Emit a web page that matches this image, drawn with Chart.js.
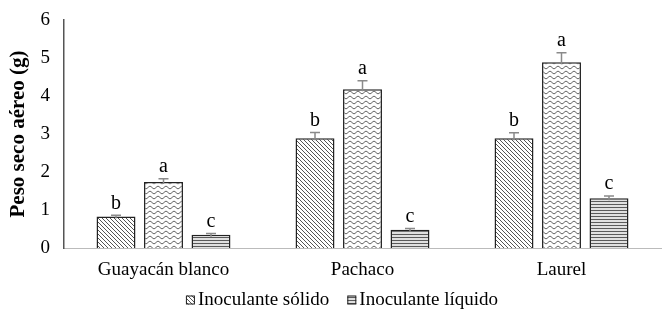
<!DOCTYPE html>
<html lang="es">
<head>
<meta charset="UTF-8">
<title>Peso seco aéreo</title>
<script src="https://cdn.jsdelivr.net/npm/chart.js"></script>
<style>
    html, body { margin: 0; padding: 0; background: #fff; overflow: hidden; }
</style>
</head>
<body>
<canvas id="chart" width="666" height="316"></canvas>
<script>
    // Datos
    const categorias = ['Guayacán blanco', 'Pachaco', 'Laurel'];
    const solido = [0.83, 2.89, 2.89];
    const solidoErr = [0.03, 0.15, 0.14];
    const medio = [1.74, 4.18, 4.89];
    const medioErr = [0.08, 0.22, 0.25];
    const liquido = [0.35, 0.48, 1.31];
    const liquidoErr = [0.03, 0.03, 0.06];
    const letrasSolido = ['b', 'b', 'b'];
    const letrasMedio = ['a', 'a', 'a'];
    const letrasLiquido = ['c', 'c', 'c'];
    const yTicks = [0, 1, 2, 3, 4, 5, 6];

    const fuente = '"Liberation Serif", "Times New Roman", serif';

    // Patrones de relleno
    function patronDiagonal() {
        const c = document.createElement('canvas');
        c.width = 4; c.height = 4;
        const g = c.getContext('2d');
        g.fillStyle = '#fff'; g.fillRect(0, 0, 4, 4);
        g.strokeStyle = '#555'; g.lineWidth = 1;
        g.beginPath();
        g.moveTo(-1, -1); g.lineTo(5, 5);
        g.moveTo(-1, 3); g.lineTo(1, 5);
        g.moveTo(3, -1); g.lineTo(5, 1);
        g.stroke();
        return g.createPattern(c, 'repeat');
    }
    function patronOndas() {
        const c = document.createElement('canvas');
        c.width = 8; c.height = 5;
        const g = c.getContext('2d');
        g.fillStyle = '#fff'; g.fillRect(0, 0, 8, 5);
        g.strokeStyle = '#666'; g.lineWidth = 1;
        g.beginPath();
        for (let x = 0; x <= 8; x++) {
            const y = 2.5 + 1.3 * Math.sin(x / 8 * Math.PI * 2);
            if (x === 0) g.moveTo(x, y); else g.lineTo(x, y);
        }
        g.stroke();
        return g.createPattern(c, 'repeat');
    }
    function patronHorizontal() {
        const c = document.createElement('canvas');
        c.width = 2; c.height = 3;
        const g = c.getContext('2d');
        g.fillStyle = '#e0e0e0'; g.fillRect(0, 0, 2, 3);
        g.fillStyle = '#5a5a5a'; g.fillRect(0, 0, 2, 1);
        return g.createPattern(c, 'repeat');
    }

    // Barras de error y letras
    const errorPlugin = {
        id: 'errorBars',
        afterDatasetsDraw(chart) {
            const ctx = chart.ctx;
            const y = chart.scales.y;
            chart.data.datasets.forEach((ds, i) => {
                const meta = chart.getDatasetMeta(i);
                meta.data.forEach((bar, j) => {
                    const top = y.getPixelForValue(ds.data[j] + ds.errores[j]);
                    const base = y.getPixelForValue(ds.data[j]);
                    ctx.save();
                    ctx.strokeStyle = '#8a8a8a';
                    ctx.lineWidth = 1.5;
                    ctx.beginPath();
                    ctx.moveTo(bar.x, base + 2); ctx.lineTo(bar.x, top);
                    ctx.moveTo(bar.x - 5, top); ctx.lineTo(bar.x + 5, top);
                    ctx.stroke();
                    ctx.fillStyle = '#000';
                    ctx.font = '20px ' + fuente;
                    ctx.textAlign = 'center';
                    ctx.textBaseline = 'bottom';
                    ctx.fillText(ds.letras[j], bar.x, top - 2);
                    ctx.restore();
                });
            });
        }
    };

    // Leyenda propia (cuadros pequeños pegados al texto)
    const leyendaPlugin = {
        id: 'leyenda',
        afterDraw(chart) {
            const ctx = chart.ctx;
            const items = chart.data.datasets.filter(ds => ds.label !== '');
            const caja = 9, hueco = 3, separacion = 18;
            ctx.save();
            ctx.font = '19px ' + fuente;
            const anchos = items.map(ds => ctx.measureText(ds.label).width);
            const total = anchos.reduce((a, w) => a + caja + hueco + w, 0) + separacion * (items.length - 1);
            let x = 342 - total / 2;
            const yc = 300;
            items.forEach((ds, k) => {
                ctx.fillStyle = ds.backgroundColor;
                ctx.fillRect(x, yc - caja / 2, caja, caja);
                ctx.strokeStyle = '#222';
                ctx.lineWidth = 1;
                ctx.strokeRect(x + 0.5, yc - caja / 2 + 0.5, caja - 1, caja - 1);
                ctx.fillStyle = '#000';
                ctx.textAlign = 'left';
                ctx.textBaseline = 'middle';
                ctx.fillText(ds.label, x + caja + hueco, yc);
                x += caja + hueco + anchos[k] + separacion;
            });
            ctx.restore();
        }
    };

    new Chart(document.getElementById('chart'), {
        type: 'bar',
        data: {
            labels: categorias,
            datasets: [
                { label: 'Inoculante sólido', data: solido, errores: solidoErr, letras: letrasSolido,
                  backgroundColor: patronDiagonal(), borderColor: '#222', borderWidth: 1.5 },
                { label: '', data: medio, errores: medioErr, letras: letrasMedio,
                  backgroundColor: patronOndas(), borderColor: '#222', borderWidth: 1.5 },
                { label: 'Inoculante líquido', data: liquido, errores: liquidoErr, letras: letrasLiquido,
                  backgroundColor: patronHorizontal(), borderColor: '#222', borderWidth: 1.5 }
            ]
        },
        options: {
            responsive: false,
            animation: false,
            devicePixelRatio: 1,
            layout: { padding: { top: 20, right: 5, left: 6, bottom: 32 } },
            datasets: { bar: { categoryPercentage: 0.716, barPercentage: 0.82 } },
            scales: {
                x: {
                    grid: { display: false, drawTicks: false },
                    border: { color: '#bbb', width: 1 },
                    ticks: { color: '#000', font: { family: fuente, size: 19 }, padding: 11, maxRotation: 0 },
                    afterFit: s => { s.height = 36; }
                },
                y: {
                    min: 0, max: 6,
                    afterBuildTicks: s => { s.ticks = yTicks.map(v => ({ value: v })); },
                    afterFit: s => { s.width = 58; s.paddingTop = 0; s.paddingBottom = 0; },
                    grid: { display: false, drawTicks: false },
                    border: { color: '#555', width: 1.5 },
                    ticks: { color: '#000', font: { family: fuente, size: 19 }, padding: 14 },
                    title: { display: true, text: 'Peso seco aéreo (g)', color: '#000',
                             font: { family: fuente, size: 21, weight: 'bold' }, padding: 0 }
                }
            },
            plugins: {
                tooltip: { enabled: false },
                legend: { display: false }
            }
        },
        plugins: [errorPlugin, leyendaPlugin]
    });
</script>
</body>
</html>
